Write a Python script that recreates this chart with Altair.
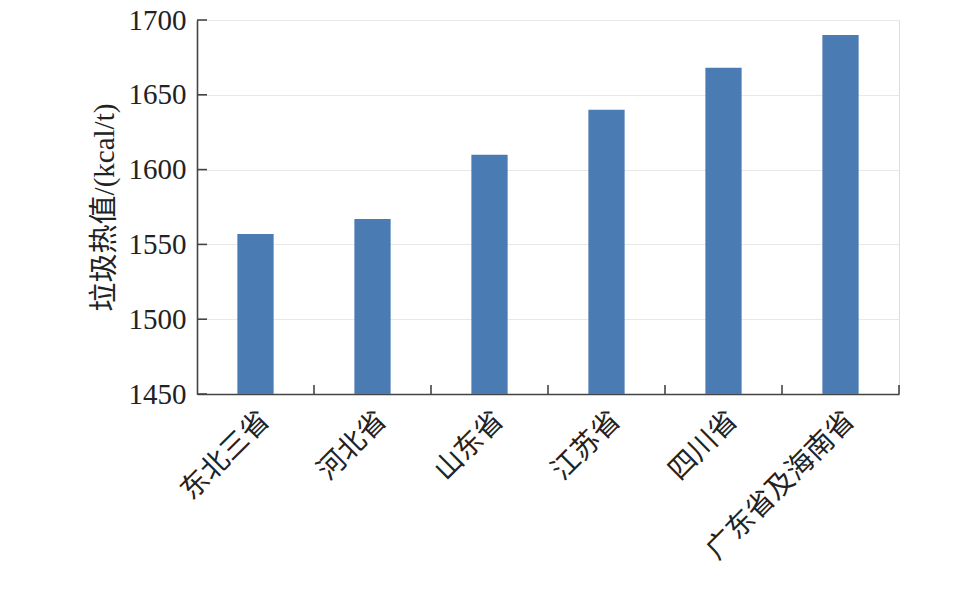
import altair as alt
import pandas as pd

regions = ["东北三省", "河北省", "山东省", "江苏省", "四川省", "广东省及海南省"]
values = [1557, 1567, 1610, 1640, 1668, 1690]
y_ticks = [1450, 1500, 1550, 1600, 1650, 1700]

df = pd.DataFrame({"region": regions, "value": values})
tick_df = pd.DataFrame({"t": y_ticks})

FONT = "Liberation Serif, Noto Sans CJK SC"
W, H = 702, 374

x_enc = alt.X("region:N", sort=regions,
              scale=alt.Scale(paddingInner=0, paddingOuter=0),
              axis=alt.Axis(title=None, labelAngle=-45, labelFont=FONT, labelFontSize=28,
                            labelColor="#222", tickSize=0, domainColor="#444", domainWidth=1.6,
                            labelPadding=12, labelAlign="right", labelBaseline="top",
                            labelLimit=1000, grid=False))
y_scale = alt.Scale(domain=[1450, 1700], nice=False, zero=False)

bars = alt.Chart(df).mark_bar(color="#4a7bb2", width=alt.RelativeBandSize(0.31), clip=True).encode(
    x=x_enc,
    y=alt.Y("value:Q", scale=y_scale,
            axis=alt.Axis(title="垃圾热值/(kcal/t)", values=y_ticks, format="d", titleFont=FONT,
                          titleFontSize=29, titleFontWeight="normal", titleColor="#222",
                          titlePadding=9,
                          labelFont=FONT, labelFontSize=29, labelColor="#222", labelPadding=11,
                          tickSize=0, domainColor="#444", domainWidth=1.6,
                          grid=True, gridColor="#e8e8e8", gridWidth=1)),
    y2=alt.datum(1450),
)

yticks = alt.Chart(tick_df).mark_rule(color="#444", strokeWidth=1.6).encode(
    y=alt.Y("t:Q", scale=y_scale),
    x=alt.value(0), x2=alt.value(10),
)

xticks = alt.Chart(df).mark_rule(color="#444", strokeWidth=1.6).encode(
    x=alt.X("region:N", sort=regions, bandPosition=1),
    y=alt.value(H), y2=alt.value(H - 9),
)

chart = alt.layer(bars, yticks, xticks).properties(
    width=W, height=H,
    autosize=alt.AutoSizeParams(type="none"),
    padding={"left": 189, "top": 12, "right": 40, "bottom": 190},
).configure_view(stroke="transparent", strokeWidth=0, strokeOpacity=0).configure(background="white")

chart.save("out.html", embed_options={"renderer": "svg", "actions": False})
